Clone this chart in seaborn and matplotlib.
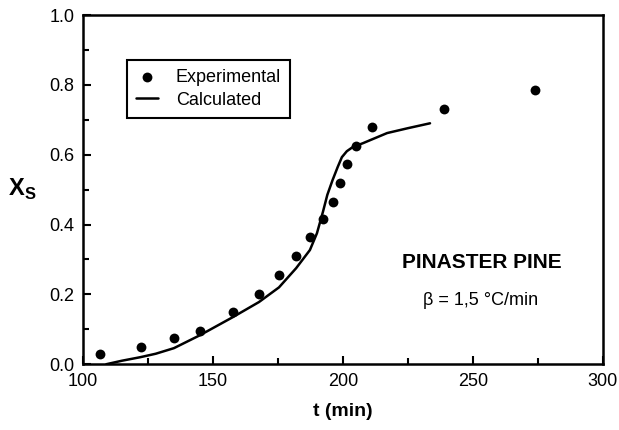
import seaborn as sns
import matplotlib.pyplot as plt
from matplotlib.ticker import MultipleLocator
import pandas as pd

# experimental points
t_exp = [106.5, 122.3, 135, 145, 157.7, 167.7, 175.4, 182, 187.3,
         192.5, 196.2, 199, 201.5, 205, 211, 239, 274]
xs_exp = [0.029, 0.049, 0.075, 0.095, 0.149, 0.200, 0.255, 0.310, 0.364,
          0.417, 0.464, 0.519, 0.573, 0.625, 0.679, 0.731, 0.785]

# calculated curve
t_calc = [109, 115, 122, 128, 135, 145, 157.7, 167.7, 175.4, 182, 187.3,
          190, 192.3, 194, 196, 198, 199.6, 201.5, 203.8, 207.7, 217, 225, 233.5]
xs_calc = [0.0, 0.010, 0.020, 0.030, 0.046, 0.083, 0.135, 0.178, 0.220, 0.275,
           0.327, 0.375, 0.436, 0.485, 0.527, 0.565, 0.593, 0.610, 0.622,
           0.633, 0.662, 0.676, 0.690]

df_exp = pd.DataFrame({"t": t_exp, "xs": xs_exp})
df_calc = pd.DataFrame({"t": t_calc, "xs": xs_calc})

sns.set_style("ticks")
plt.rcParams["font.family"] = ["Liberation Sans", "DejaVu Sans"]
plt.rcParams["text.color"] = "black"
plt.rcParams["axes.labelcolor"] = "black"

fig = plt.figure(figsize=(6.19, 4.3), dpi=100)
ax = fig.add_axes([0.134, 0.153, 0.840, 0.812])

sns.scatterplot(data=df_exp, x="t", y="xs", ax=ax, color="black", s=50,
                edgecolor="black", linewidth=0, label="Experimental", zorder=3)
sns.lineplot(data=df_calc, x="t", y="xs", ax=ax, color="black", linewidth=1.8,
             label="Calculated", sort=False)

ax.set_xlim(100, 300)
ax.set_ylim(0, 1.0)
ax.xaxis.set_major_locator(MultipleLocator(50))
ax.xaxis.set_minor_locator(MultipleLocator(25))
ax.yaxis.set_major_locator(MultipleLocator(0.2))
ax.yaxis.set_minor_locator(MultipleLocator(0.1))
ax.set_yticks([0, 0.2, 0.4, 0.6, 0.8, 1.0], ["0.0", "0.2", "0.4", "0.6", "0.8", "1.0"])
ax.tick_params(which="both", direction="in", top=False, right=False,
               labelsize=13, width=1.5, colors="black")
ax.tick_params(which="major", length=6, pad=6)
ax.tick_params(which="minor", length=4)
for sp in ax.spines.values():
    sp.set_visible(True)
    sp.set_linewidth(1.8)
    sp.set_color("black")

ax.set_xlabel("t (min)", fontsize=14, fontweight="bold", labelpad=10)
ax.set_ylabel(r"X$_\mathregular{S}$", fontsize=17, fontweight="bold",
              rotation=0, labelpad=20, va="center")

ax.text(253.5, 0.292, "PINASTER PINE", fontsize=15, fontweight="bold",
        ha="center", va="center")
ax.text(253, 0.183, "β = 1,5 °C/min", fontsize=13, ha="center", va="center")

leg = ax.legend(loc="upper left", bbox_to_anchor=(0.085, 0.871), borderaxespad=0,
                fontsize=13, frameon=True, fancybox=False, framealpha=1,
                edgecolor="black", handlelength=1.2, handletextpad=1.0,
                labelspacing=0.3, borderpad=0.5, labelcolor="black")
leg.get_frame().set_linewidth(1.5)

plt.savefig("out.png", dpi=100)
